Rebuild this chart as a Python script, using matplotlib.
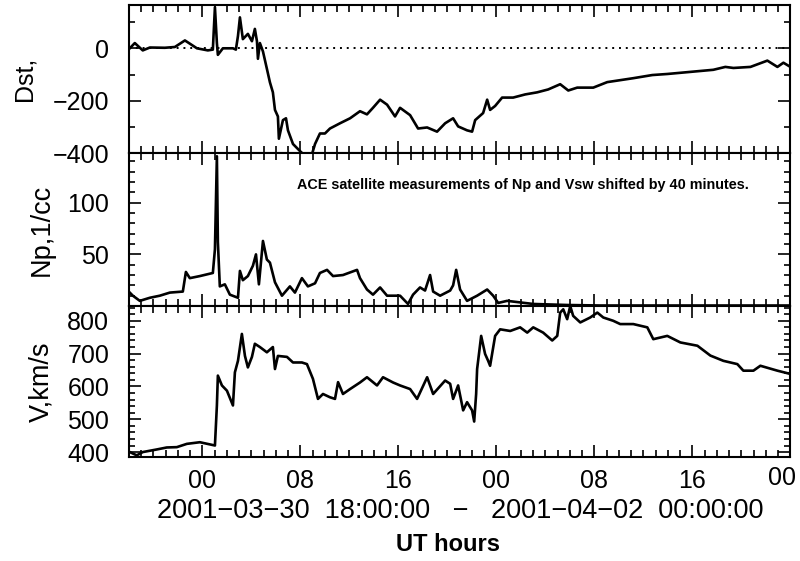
import numpy as np
import matplotlib
matplotlib.use("Agg")
import matplotlib.pyplot as plt
import matplotlib.transforms as mtransforms
from matplotlib.ticker import MultipleLocator, FixedLocator

plt.rcParams['font.family'] = ['Liberation Sans', 'DejaVu Sans']

# hours since 2001-03-30 18:00 UT
dst_t = [0.08, 0.49, 1.14, 1.72, 2.94, 3.76, 4.58, 5.56, 6.45, 6.86, 7.03, 7.19, 7.27, 7.68,
         8.50, 8.74, 8.91, 9.07, 9.31, 9.72, 10.05, 10.29, 10.46, 10.54, 10.70, 10.95, 11.27,
         11.52, 11.76, 11.93, 12.17, 12.25, 12.58, 12.83, 12.99, 13.40, 13.97, 14.38, 14.95,
         15.20, 15.60, 16.01, 16.42, 17.24, 18.06, 18.87, 19.44, 19.93, 20.51, 21.08, 21.73,
         22.14, 22.96, 23.61, 24.35, 25.16, 25.82, 26.47, 26.88, 27.61, 28.02, 28.27, 28.92,
         29.25, 29.49, 29.90, 30.47, 31.37, 32.35, 33.33, 34.23, 35.21, 35.87, 36.60, 37.91,
         39.05, 41.18, 42.73, 43.95, 45.83, 47.71, 48.69, 49.35, 50.74, 52.12, 52.94, 53.43, 54.0]
dst_v = [0, 20, -8, 3, 2, 5, 30, 0, -8, -5, 157, 20, -25, 0,
         0, -5, 47, 118, 35, 55, 27, 74, 27, -40, 20, -12, -78,
         -130, -168, -235, -260, -345, -274, -267, -313, -365, -392, -410, -404,
         -365, -325, -325, -306, -286, -267, -240, -252, -227, -196, -215, -260,
         -227, -255, -306, -302, -318, -286, -267, -298, -313, -318, -274, -247,
         -196, -235, -220, -188, -188, -176, -168, -157, -137, -161, -150, -150,
         -129, -114, -102, -98, -90, -82, -71, -75, -71, -47, -71, -55, -71]

np_t = [0.08, 0.33, 0.90, 1.72, 2.53, 3.35, 4.41, 4.66, 4.98, 5.80, 6.86, 7.03, 7.19, 7.27,
        7.43, 7.84, 8.25, 8.91, 9.07, 9.31, 9.72, 10.13, 10.38, 10.62, 10.95, 11.27, 11.52,
        11.93, 12.50, 13.15, 13.56, 14.13, 14.62, 15.20, 15.60, 16.18, 16.67, 17.48, 18.63,
        18.87, 19.44, 19.93, 20.51, 21.08, 22.14, 22.79, 23.20, 23.77, 24.18, 24.59, 24.84,
        25.41, 26.23, 26.47, 26.72, 27.04, 27.61, 28.43, 29.25, 29.74, 30.15, 30.88, 33.01,
        35.78, 38.48, 54.0]
np_v = [13, 10, 5, 8, 10, 13, 14, 33, 27, 29, 32, 55, 145, 62,
        19, 21, 11, 8, 34, 25, 29, 39, 50, 21, 63, 45, 42,
        23, 10, 19, 13, 27, 19, 22, 32, 35, 29, 30, 35,
        27, 16, 11, 18, 10, 10, 2, 11, 18, 15, 30, 14,
        10, 15, 20, 35, 16, 5, 10, 16, 10, 3, 5, 2,
        1, 0.5, 0.5]

v_t = [0.08, 0.65, 1.14, 2.29, 3.10, 3.92, 4.74, 5.80, 7.03, 7.19, 7.27, 7.60, 8.01, 8.50,
       8.66, 8.91, 9.23, 9.48, 9.72, 10.05, 10.29, 10.70, 11.27, 11.76, 11.93, 12.17, 12.91,
       13.40, 14.13, 14.54, 15.03, 15.44, 15.85, 16.42, 16.83, 17.08, 17.48, 18.06, 18.87,
       19.44, 20.26, 20.75, 21.57, 22.14, 22.96, 23.53, 24.35, 24.84, 25.82, 26.23, 26.47,
       26.88, 27.29, 27.61, 28.02, 28.19, 28.35, 28.43, 28.76, 29.08, 29.33, 29.49, 29.90,
       30.31, 31.13, 31.94, 32.52, 33.01, 33.82, 34.56, 34.97, 35.21, 35.46, 35.78, 36.03,
       36.27, 36.85, 37.66, 38.24, 38.73, 39.54, 40.11, 41.18, 42.32, 42.81, 43.95, 45.02,
       46.41, 47.47, 48.53, 49.67, 50.16, 50.98, 51.55, 52.94, 54.0]
v_v = [400, 390, 400, 408, 414, 415, 425, 430, 420, 542, 633, 603, 587, 542,
       643, 678, 760, 693, 658, 690, 730, 720, 704, 720, 653, 693, 690,
       673, 673, 668, 623, 562, 577, 567, 562, 613, 577, 592, 612,
       628, 603, 628, 612, 603, 592, 562, 628, 577, 618, 608, 562,
       603, 527, 552, 527, 493, 577, 653, 754, 699, 678, 663, 754,
       774, 769, 780, 764, 780, 764, 740, 754, 825, 835, 805, 845,
       815, 795, 810, 825, 810, 800, 790, 790, 780, 744, 754, 734,
       724, 694, 678, 668, 648, 648, 663, 648, 638]

hour_ticks = [6, 14, 22, 30, 38, 46, 54]
hour_labels = ['00', '08', '16', '00', '08', '16', '00']

fig = plt.figure(figsize=(8, 5.61), dpi=100)
L, W = 0.161, 0.827
ax1 = fig.add_axes([L, 0.727, W, 0.264])
ax2 = fig.add_axes([L, 0.4545, W, 0.2725], sharex=ax1)
ax3 = fig.add_axes([L, 0.1854, W, 0.2691], sharex=ax1)

lw = 1.9
ax1.plot(dst_t, dst_v, color='black', lw=lw)
ax1.axhline(0, color='black', lw=1.4, ls=(0, (1, 2.5)))
ax2.plot(np_t, np_v, color='black', lw=lw)
ax3.plot(v_t, v_v, color='black', lw=lw)

ax1.set_xlim(0, 54)
ax1.set_ylim(-400, 165)
ax2.set_ylim(0, 148)
ax3.set_ylim(385, 845)

ax1.yaxis.set_major_locator(MultipleLocator(200))
ax1.yaxis.set_minor_locator(MultipleLocator(100))
ax2.yaxis.set_major_locator(FixedLocator([50, 100]))
ax2.yaxis.set_minor_locator(MultipleLocator(10))
ax3.yaxis.set_major_locator(MultipleLocator(100))
ax3.yaxis.set_minor_locator(MultipleLocator(20))

for ax in (ax1, ax2, ax3):
    ax.xaxis.set_major_locator(FixedLocator(hour_ticks))
    ax.xaxis.set_minor_locator(MultipleLocator(1))
    ax.tick_params(which='both', direction='in', top=True, right=True, width=1.2,
                   labelsize=18)
    ax.tick_params(axis='y', pad=14)
    ax.tick_params(which='major', length=8.5)
    ax.tick_params(axis='x', which='minor', length=5)
    ax.tick_params(axis='y', which='minor', length=4)
    for s in ax.spines.values():
        s.set_linewidth(1.5)

ax1.tick_params(labelbottom=False)
ax2.tick_params(labelbottom=False)
ax3.set_xticks(hour_ticks)
ax3.set_xticklabels(hour_labels)
ax3.tick_params(axis='x', pad=9)
# last label sits a little left and up so it stays inside the figure
last = ax3.get_xticklabels()[-1]
last.set_transform(last.get_transform() +
                   mtransforms.ScaledTranslation(-8 / 100, 3 / 100, fig.dpi_scale_trans))

ax1.set_ylabel('Dst,', fontsize=18)
ax2.set_ylabel('Np,1/cc', fontsize=19.5)
ax3.set_ylabel('V,km/s', fontsize=19.5)
ax1.yaxis.set_label_coords(-0.139, 0.5)
ax2.yaxis.set_label_coords(-0.112, 0.5)
ax3.yaxis.set_label_coords(-0.112, 0.5)

ax2.text(0.254, 0.79, 'ACE satellite measurements of Np and Vsw shifted by 40 minutes.',
         transform=ax2.transAxes, ha='left', va='center', fontsize=10.4, fontweight='bold')

fig.text(0.575, 0.089,
         '2001\u221203\u221230  18:00:00   \u2212   2001\u221204\u221202  00:00:00',
         ha='center', va='center', fontsize=19.5)
fig.text(0.56, 0.030, 'UT hours', ha='center', va='center', fontsize=17, fontweight='bold')

fig.savefig('out.png', dpi=100)
